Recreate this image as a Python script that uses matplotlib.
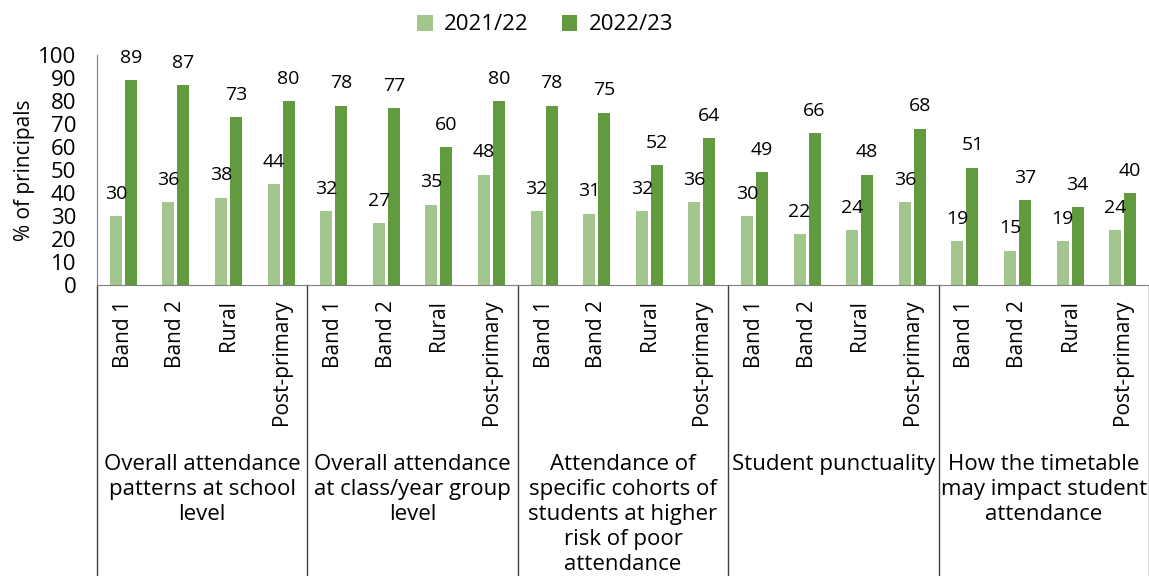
import matplotlib
matplotlib.use("Agg")
import matplotlib.pyplot as plt
import numpy as np

plt.rcParams['font.family'] = ['Open Sans', 'DejaVu Sans']

groups = ["Overall attendance\npatterns at school\nlevel",
          "Overall attendance\nat class/year group\nlevel",
          "Attendance of\nspecific cohorts of\nstudents at higher\nrisk of poor\nattendance",
          "Student punctuality",
          "How the timetable\nmay impact student\nattendance"]
subcats = ["Band 1", "Band 2", "Rural", "Post-primary"]
y2122 = [30, 36, 38, 44, 32, 27, 35, 48, 32, 31, 32, 36, 30, 22, 24, 36, 19, 15, 19, 24]
y2223 = [89, 87, 73, 80, 78, 77, 60, 80, 78, 75, 52, 64, 49, 66, 48, 68, 51, 37, 34, 40]
series = ["2021/22", "2022/23"]

light = "#a3c68f"
dark = "#629a3f"

fig = plt.figure(figsize=(11.49, 5.76), dpi=100)
ax = fig.add_axes([97/1149, 1-285/576, 1-97/1149, 230/576])

x = np.arange(len(y2122))
w = 0.23
off = 0.143
b1 = ax.bar(x - off, y2122, w, color=light, label=series[0])
b2 = ax.bar(x + off, y2223, w, color=dark, label=series[1])

for xs, vals in [(x - off, y2122), (x + off, y2223)]:
    for xi, v in zip(xs, vals):
        ax.annotate(str(v), (xi, v), xytext=(0, 16), textcoords="offset points",
                    ha="center", va="center", fontsize=14)

ax.set_xlim(-0.5, len(x) - 0.5)
ax.set_ylim(0, 100)
ax.set_yticks(range(0, 101, 10))
ax.tick_params(axis="y", length=0, labelsize=16, pad=15)
ax.set_xticks([])
for s in ["top", "right"]:
    ax.spines[s].set_visible(False)
ax.spines["left"].set_color("#808080")
ax.spines["bottom"].set_color("#808080")
ax.set_ylabel("% of principals", fontsize=15, labelpad=2)

trans = ax.get_xaxis_transform()
for i in range(len(x)):
    ax.text(x[i], -0.065, subcats[i % 4], rotation=90, ha="center", va="top",
            fontsize=15, transform=trans)
for g in range(len(groups) + 1):
    ax.plot([g * 4 - 0.5, g * 4 - 0.5], [0, -1.5], color="#404040", lw=1,
            transform=trans, clip_on=False)
for g, name in enumerate(groups):
    ax.text(g * 4 + 1.5, -0.735, name, ha="center", va="top", fontsize=16,
            linespacing=1.25, transform=trans)

fig.legend(handles=[b1, b2], labels=series, loc="center", ncol=2,
           bbox_to_anchor=(545/1149, 1-25/576), frameon=False, fontsize=16,
           handlelength=0.7, handleheight=0.7, columnspacing=1.5, handletextpad=0.5)

fig.savefig("out.png", dpi=100)
